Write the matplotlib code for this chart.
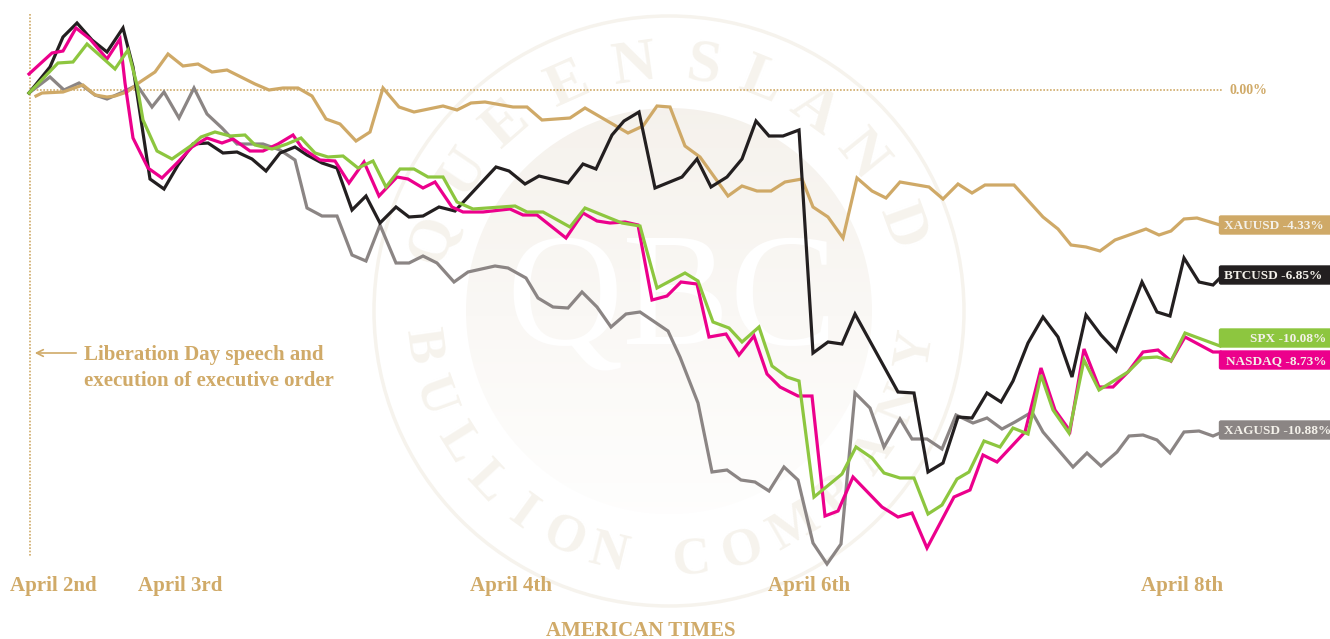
import numpy as np
import matplotlib
matplotlib.use("Agg")
import matplotlib.pyplot as plt
from matplotlib.patches import Circle, FancyBboxPatch

plt.rcParams['font.family'] = ['Liberation Serif', 'DejaVu Serif']

# ----------------------------
# Series (t = session position, v = rebased change)
# ----------------------------
xau_t = [36, 42, 63, 83, 95, 107, 115, 127, 140, 155, 168, 183, 198, 212, 227, 255, 269, 283, 298, 312,
         326, 340, 356, 370, 383, 399, 414, 443, 457, 471, 485, 513, 527, 542, 570, 585, 628, 643, 657,
         670, 685, 700, 728, 742, 757, 771, 785, 802, 813, 828, 843, 857, 872, 886, 900, 929, 943, 958,
         972, 985, 1014, 1043, 1058, 1071, 1086, 1100, 1115, 1146, 1159, 1171, 1184, 1197, 1220]
xau_v = [-6, -3, -2, 5, -5, -7, -6, -2, 8, 18, 36, 24, 26, 18, 20, 6, 0, 2, 2, -6,
         -29, -34, -51, -42, 2, -17, -22, -16, -20, -13, -12, -17, -17, -30, -28, -18, -43, -36, -16,
         -17, -56, -67, -106, -96, -101, -101, -92, -89, -117, -127, -148, -88, -101, -108, -92, -97, -109, -94,
         -103, -95, -95, -127, -139, -155, -157, -161, -150, -139, -145, -141, -129, -128, -135]

btc_t = [29, 50, 63, 77, 92, 107, 123, 133, 150, 164, 178, 193, 208, 223, 237, 252, 266, 280, 295, 307,
         322, 337, 352, 366, 380, 396, 409, 423, 439, 455, 496, 509, 525, 539, 568, 583, 596, 612, 624,
         639, 655, 682, 697, 711, 727, 742, 756, 769, 783, 799, 813, 828, 842, 855, 898, 914, 928, 943,
         958, 972, 987, 1001, 1013, 1028, 1043, 1058, 1072, 1086, 1101, 1116, 1142, 1157, 1170, 1184, 1199, 1213, 1220]
btc_v = [-3, 23, 53, 67, 50, 38, 62, 23, -89, -99, -75, -54, -53, -63, -62, -69, -81, -63, -57, -65,
         -73, -78, -120, -106, -133, -117, -127, -126, -117, -121, -77, -81, -94, -86, -93, -74, -79, -45, -31,
         -22, -98, -87, -69, -97, -87, -69, -31, -46, -46, -40, -263, -252, -254, -224, -302, -303, -382, -373,
         -327, -328, -303, -312, -291, -253, -227, -247, -287, -225, -245, -261, -192, -222, -226, -168, -192, -195, -188]

spx_t = [29, 58, 73, 87, 115, 128, 137, 143, 157, 172, 192, 201, 215, 230, 245, 255, 272, 287, 301, 315,
         328, 343, 358, 373, 386, 400, 414, 428, 443, 457, 473, 515, 527, 543, 570, 585, 622, 640, 657,
         685, 698, 713, 729, 742, 759, 772, 787, 799, 814, 842, 856, 872, 884, 900, 914, 928, 942, 957,
         969, 984, 1000, 1013, 1028, 1041, 1053, 1069, 1084, 1099, 1128, 1142, 1157, 1171, 1185, 1220]
spx_v = [-3, 27, 28, 46, 21, 40, 5, -30, -61, -69, -55, -47, -42, -46, -45, -55, -59, -54, -48, -63,
         -67, -66, -78, -71, -97, -79, -79, -87, -87, -112, -119, -116, -122, -122, -137, -118, -133, -136, -198,
         -183, -191, -232, -238, -252, -237, -276, -287, -291, -407, -384, -357, -368, -383, -388, -388, -424, -415, -389,
         -382, -351, -357, -338, -344, -285, -320, -343, -270, -300, -282, -268, -267, -271, -243, -256]

nasdaq_t = [29, 52, 63, 76, 90, 107, 120, 125, 133, 148, 162, 177, 192, 207, 222, 233, 250, 263, 278, 293,
            302, 320, 335, 349, 364, 379, 397, 408, 423, 435, 452, 463, 483, 510, 523, 537, 566, 583, 597,
            610, 625, 638, 652, 667, 681, 697, 709, 726, 739, 754, 767, 780, 798, 812, 825, 838, 853, 882,
            898, 912, 927, 954, 970, 983, 997, 1025, 1041, 1055, 1070, 1084, 1099, 1113, 1128, 1143, 1158, 1171, 1185, 1213, 1220]
nasdaq_v = [16, 37, 39, 62, 51, 31, 51, 7, -48, -78, -88, -73, -57, -48, -53, -49, -61, -61, -54, -45,
            -58, -70, -71, -93, -72, -106, -87, -89, -98, -92, -117, -122, -122, -119, -125, -125, -148, -123, -131,
            -133, -132, -135, -210, -206, -192, -194, -247, -244, -265, -246, -284, -297, -306, -306, -426, -421, -387, -417,
            -427, -423, -458, -407, -400, -365, -372, -342, -278, -320, -341, -259, -297, -297, -282, -262, -260, -271, -247, -262, -262]

xag_t = [29, 50, 64, 79, 95, 107, 123, 137, 152, 164, 179, 194, 207, 222, 237, 263, 280, 295, 307, 322,
         337, 352, 366, 380, 396, 409, 423, 437, 454, 468, 495, 508, 526, 538, 553, 568, 582, 597, 611,
         626, 640, 668, 680, 698, 712, 727, 741, 755, 769, 784, 798, 813, 827, 841, 855, 870, 884, 900,
         912, 927, 942, 956, 973, 987, 1002, 1015, 1032, 1043, 1073, 1087, 1101, 1117, 1129, 1143, 1157, 1170, 1184, 1199, 1213, 1220]
xag_v = [-3, 13, 0, 7, -5, -9, -2, 5, -17, -2, -28, 2, -24, -38, -54, -54, -60, -70, -118, -126,
         -126, -165, -171, -135, -173, -173, -166, -173, -192, -182, -176, -178, -188, -208, -217, -218, -202, -217, -237,
         -224, -222, -241, -267, -313, -382, -380, -390, -392, -401, -377, -390, -453, -474, -454, -303, -318, -357, -329,
         -349, -349, -359, -325, -333, -328, -339, -332, -322, -342, -377, -363, -376, -362, -346, -345, -350, -363, -342, -341, -346, -343]

day_labels = ["April 2nd", "April 3rd", "April 4th", "April 6th", "April 8th"]
day_pos = [53, 180, 511, 809, 1182]

GOLD = "#d0aa68"
names_top = list("QUEENSLAND")
angles_top = [163, 146, 131, 114, 98, 82, 68, 54, 39, 20]
names_bottom = list("BULLIONCOMPANY")
angles_bottom = [188, 200, 212, 223, 234, 245, 256, 275, 287, 300, 312, 325, 338, 351]

fig = plt.figure(figsize=(13.30, 6.39), dpi=100)
ax = fig.add_axes([0, 0, 1, 1])
ax.axis("off")

# ----------------------------
# Marca de agua
# ----------------------------
cx, cy = 669, -221
WM = "#f6f3ed"
ax.add_patch(Circle((cx, cy), 295, fill=False, ec=WM, lw=2.5, zorder=1))
grad = np.linspace(0, 1, 200)[:, None, None] * np.ones((200, 200, 1))
rgb = np.array([0.962, 0.947, 0.925]) * (1 - grad) + np.array([0.998, 0.997, 0.995]) * grad
im = ax.imshow(rgb, extent=(cx - 220, cx + 220, cy - 215, cy + 215), aspect="auto", zorder=1)
im.set_clip_path(Circle((cx, cy), 203, transform=ax.transData))
ax.text(cx + 3, cy + 6, "QBC", color="white", fontsize=116, ha="center", va="center", zorder=1.5)
for ch, a in zip(names_top, angles_top):
    r = np.radians(a)
    ax.text(cx + 247 * np.cos(r), cy + 247 * np.sin(r), ch, color=WM, fontsize=44, fontweight="bold",
            rotation=a - 90, rotation_mode="anchor", ha="center", va="center", zorder=1.5)
for ch, a in zip(names_bottom, angles_bottom):
    r = np.radians(a)
    ax.text(cx + 250 * np.cos(r), cy + 250 * np.sin(r), ch, color=WM, fontsize=38, fontweight="bold",
            rotation=a + 90, rotation_mode="anchor", ha="center", va="center", zorder=1.5)

# ----------------------------
# Lineas de referencia
# ----------------------------
ax.plot([30, 1222], [0, 0], color=GOLD, lw=1.2, ls=(0, (1, 1)), zorder=2)
ax.plot([29.5, 29.5], [76, -466], color=GOLD, lw=1.2, ls=(0, (1, 1)), zorder=2)
ax.text(1230, -1, "0.00%", color=GOLD, fontsize=10, fontweight="bold", va="center")

# ----------------------------
# Series
# ----------------------------
series = [
    (xag_t, xag_v, "#8b8584"),
    (xau_t, xau_v, "#cfa967"),
    (btc_t, btc_v, "#231f20"),
    (nasdaq_t, nasdaq_v, "#ec008c"),
    (spx_t, spx_v, "#8dc63f"),
]
for t, v, col in series:
    ax.plot(t, v, color=col, lw=2.3, solid_joinstyle="miter", zorder=3)

# ----------------------------
# Etiquetas finales
# ----------------------------
tags = [
    ("XAUUSD -4.33%", -135, "#cfa967", "left"),
    ("BTCUSD -6.85%", -185, "#231f20", "left"),
    ("SPX -10.08%", -248, "#8dc63f", "right"),
    ("NASDAQ -8.73%", -270, "#ec008c", "right"),
    ("XAGUSD -10.88%", -340, "#8b8584", "left"),
]
for txt, v, col, al in tags:
    ax.add_patch(FancyBboxPatch((1219.5, v - 9), 114, 18, boxstyle="round,pad=0,rounding_size=1.5",
                                fc=col, ec=col, lw=1, zorder=4))
    xt = 1224 if al == "left" else 1326
    ax.text(xt, v - 1, txt, color="#f4f1ea", fontsize=9.5, fontweight="bold", ha=al, va="center", zorder=5)

# ----------------------------
# Textos
# ----------------------------
for lab, pos in zip(day_labels, day_pos):
    ax.text(pos, -496, lab, color=GOLD, fontsize=15, fontweight="bold", ha="center", va="center")
ax.text(641, -541, "AMERICAN TIMES", color=GOLD, fontsize=15, fontweight="bold", ha="center", va="center")
ax.text(84, -265, "Liberation Day speech and", color=GOLD, fontsize=15, fontweight="bold", va="center")
ax.text(84, -291, "execution of executive order", color=GOLD, fontsize=15, fontweight="bold", va="center")
ax.annotate("", xy=(32, -263), xytext=(79, -263),
            arrowprops=dict(arrowstyle="->", color=GOLD, lw=1.2, mutation_scale=12))

ax.set_xlim(0, 1330)
ax.set_ylim(-549, 90)
fig.savefig("out.png", dpi=100)
